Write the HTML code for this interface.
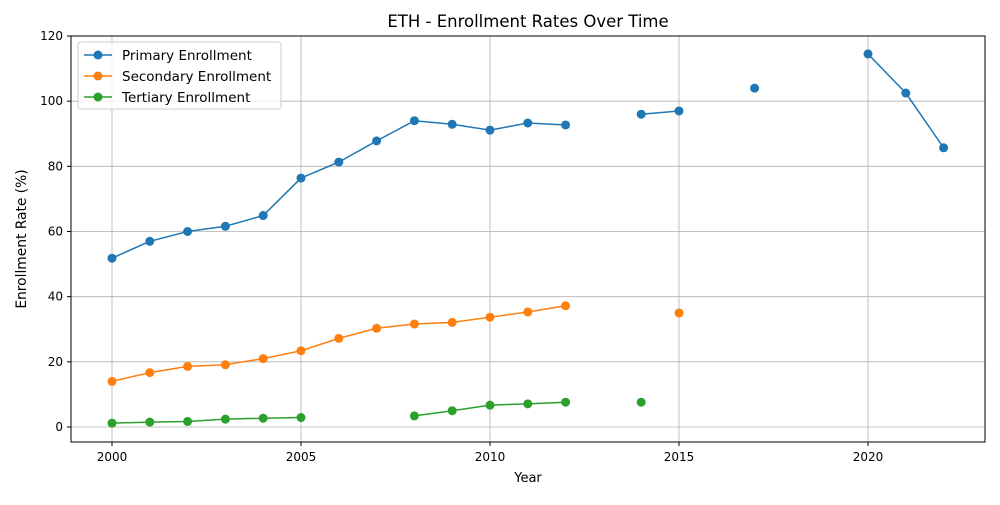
<!DOCTYPE html>
<html><head><meta charset="utf-8"><style>
body{margin:0;background:#fff;font-family:"Liberation Sans","DejaVu Sans",sans-serif}
</style></head><body>
<svg id="chart" width="1000" height="500" xmlns="http://www.w3.org/2000/svg" font-family="DejaVu Sans, Liberation Sans, sans-serif">
<text x="528" y="27" text-anchor="middle" font-size="16.5">ETH - Enrollment Rates Over Time</text>
<text x="528" y="482" text-anchor="middle" font-size="13">Year</text>
<text transform="translate(26,239) rotate(-90)" text-anchor="middle" font-size="13.8">Enrollment Rate (%)</text>
<g id="grid"></g><g id="series"></g><g id="ticks"></g>
<rect x="71" y="36" width="914" height="406" fill="none" stroke="#000" stroke-width="1"/>
<g>
<rect x="78" y="42" width="203" height="67" rx="3" fill="#fff" fill-opacity="0.8" stroke="#ccc"/>
<g id="legend"></g>
</g>
</svg>
<script>
const years=[2000,2001,2002,2003,2004,2005,2006,2007,2008,2009,2010,2011,2012,2013,2014,2015,2016,2017,2018,2019,2020,2021,2022];
const primary=[51.8,57,60,61.6,64.9,76.4,81.3,87.8,94,92.9,91.1,93.3,92.7,null,96,97,null,104,null,null,114.5,102.5,85.7];
const secondary=[14,16.7,18.6,19.1,21,23.4,27.2,30.3,31.6,32.1,33.7,35.3,37.2,null,null,35,null,null,null,null,null,null,null];
const tertiary=[1.2,1.5,1.7,2.4,2.7,2.9,null,null,3.4,5,6.7,7.1,7.6,null,7.6,null,null,null,null,null,null,null,null];
const xTicks=[2000,2005,2010,2015,2020];
const yTicks=[0,20,40,60,80,100,120];
const seriesNames=["Primary Enrollment","Secondary Enrollment","Tertiary Enrollment"];
const colors=["#1f77b4","#ff7f0e","#2ca02c"];
const NS="http://www.w3.org/2000/svg";
const X=v=>112+(v-2000)*37.8;
const Y=v=>427-v*(391/120);
function mk(t,a,p){const e=document.createElementNS(NS,t);for(const k in a)e.setAttribute(k,a[k]);p.appendChild(e);return e;}
const grid=document.getElementById('grid'),ticks=document.getElementById('ticks'),ser=document.getElementById('series'),leg=document.getElementById('legend');
xTicks.forEach(v=>{
 const g=mk('line',{x1:X(v),x2:X(v),y1:36,y2:442,stroke:'#b0b0b0','stroke-width':0.8},grid);
 
 
 mk('line',{x1:X(v),x2:X(v),y1:442,y2:446,stroke:'#000'},ticks);
 const t=mk('text',{x:X(v),y:461,'text-anchor':'middle','font-size':12},ticks);t.textContent=v;
 
 
});
yTicks.forEach(v=>{
 const g=mk('line',{x1:71,x2:985,y1:Y(v),y2:Y(v),stroke:'#b0b0b0','stroke-width':0.8},grid);
 
 
 mk('line',{x1:67,x2:71,y1:Y(v),y2:Y(v),stroke:'#000'},ticks);
 const t=mk('text',{x:63,y:Y(v)+4,'text-anchor':'end','font-size':12},ticks);t.textContent=v;
 
 
});
[primary,secondary,tertiary].forEach((data,si)=>{
 const g=mk('g',{},ser);
 
 
 let seg=[];
 const flush=()=>{if(seg.length>1)mk('polyline',{points:seg.join(' '),fill:'none',stroke:colors[si],'stroke-width':1.5},g);seg=[];};
 data.forEach((v,i)=>{if(v==null){flush();return;}seg.push(X(years[i])+','+Y(v));});
 flush();
 data.forEach((v,i)=>{if(v==null)return;
  const c=mk('circle',{cx:X(years[i]),cy:Y(v),r:4.5,fill:colors[si]},g);
  
  
 });
 const ly=55+si*21;
 mk('line',{x1:84,x2:112,y1:ly,y2:ly,stroke:colors[si],'stroke-width':1.5},leg);
 mk('circle',{cx:98,cy:ly,r:4.5,fill:colors[si]},leg);
 const t=mk('text',{x:122,y:ly+5,'font-size':13.5},leg);t.textContent=seriesNames[si];
 
 
});
</script>
</body></html>
